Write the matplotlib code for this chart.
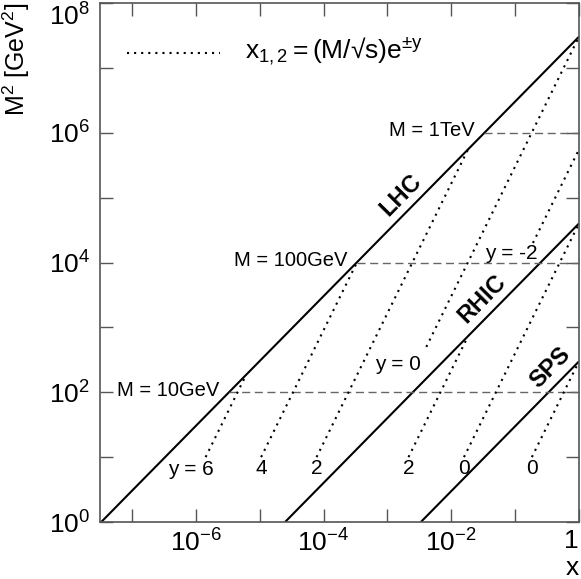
import numpy as np
import matplotlib.pyplot as plt

plt.rcParams['font.family'] = 'Liberation Sans'
plt.rcParams['mathtext.fontset'] = 'custom'
plt.rcParams['mathtext.rm'] = 'Liberation Sans'
plt.rcParams['mathtext.it'] = 'Liberation Sans:italic'
plt.rcParams['mathtext.bf'] = 'Liberation Sans:bold'

# colliders and their sqrt(s) in GeV
machines = ['LHC', 'RHIC', 'SPS']
sqrt_s = [5500.0, 200.0, 17.3]
machine_label_x = [1.6e-3, 3.0e-2, 3.5e-1]

# lines of fixed rapidity: which collider, y, lowest M^2 drawn, label
rap_machine = [0, 0, 0, 0, 0, 1, 1, 2]
rap_y = [6, 4, 2, 0, -2, 2, 0, 0]
rap_m2_start = [10, 10, 10, 500, 2e4, 10, 10, 10]
rap_text = ['y = 6', '4', '2', 'y = 0', 'y = -2', '2', '0', '0']

# fixed masses in GeV
masses = [10, 100, 1000]
mass_text = ['M = 10GeV', 'M = 100GeV', 'M = 1TeV']

x_min, x_max = 10 ** -7.5, 1.0
m2_min, m2_max = 1.0, 1e8

frame = '#555555'
fig = plt.figure(figsize=(5.81, 5.79), dpi=100)
ax = fig.add_axes([100 / 581, 57 / 579, 479 / 581, 519 / 579])
ax.set_xscale('log')
ax.set_yscale('log')
ax.set_xlim(x_min, x_max)
ax.set_ylim(m2_min, m2_max)

s_vals = [v ** 2 for v in sqrt_s]

# kinematic limits M^2 = x s
for s in s_vals:
    xs = np.array([max(m2_min / s, x_min), x_max])
    ax.plot(xs, xs * s, color='black', lw=1.5, solid_capstyle='butt')

# constant mass lines, start on the LHC limit
for m, txt in zip(masses, mass_text):
    x0 = m ** 2 / s_vals[0]
    ax.plot([x0, x_max], [m ** 2, m ** 2], color='#666666', lw=1.0,
            linestyle=(0, (5.8, 3.3)))
    ax.annotate(txt, (x0, m ** 2), xytext=(-7, 1.5), textcoords='offset points',
                ha='right', va='center', fontsize=14.5)

# constant rapidity lines x = (M/sqrt(s)) e^{-y}
label_style = {
    0: dict(ha='right', dx=6, dy=-9),
    3: dict(ha='right', dx=-4, dy=-13),
    4: dict(ha='right', dx=3, dy=-7.5),
}
for i, (k, y, m2s, txt) in enumerate(zip(rap_machine, rap_y, rap_m2_start, rap_text)):
    s = s_vals[k]
    c = s * np.exp(2 * y)
    x_end = min(np.exp(-2 * y), x_max)
    x_start = np.sqrt(m2s / c)
    xs = np.array([x_start, x_end])
    ax.plot(xs, c * xs ** 2, color='black', lw=1.5, linestyle=(0, (1, 2.4)))
    st = label_style.get(i, dict(ha='center', dx=0, dy=-8.5))
    ax.annotate(txt, (x_start, m2s), xytext=(st['dx'], st['dy']),
                textcoords='offset points', ha=st['ha'], va='center', fontsize=15)

# collider names along the limits
p1 = ax.transData.transform((1e-4, 1e-4 * s_vals[0]))
p2 = ax.transData.transform((1e-2, 1e-2 * s_vals[0]))
angle = np.degrees(np.arctan2(p2[1] - p1[1], p2[0] - p1[0]))
for name, s, lx in zip(machines, s_vals, machine_label_x):
    ax.annotate(name, (lx, lx * s), xytext=(0, 16.5), textcoords='offset points',
                ha='center', va='center', rotation=angle, fontsize=17,
                fontweight='bold', rotation_mode='anchor')

# legend entry
ax.plot([0.056, 0.25], [0.904, 0.904], transform=ax.transAxes, color='black',
        lw=1.5, linestyle=(0, (1, 2.4)))
ax.text(0.303, 0.893, r'$\mathrm{x_{1,2} = (M/√s)e^{\pm y}}$', transform=ax.transAxes,
        fontsize=19, ha='left', va='baseline')

xt = [10.0 ** e for e in range(-7, 1)]
xl = ['' if e % 2 else r'$\mathrm{10^{%d}}$' % e for e in range(-7, 1)]
xl[-1] = '1'
ax.set_xticks(xt, xl)
yt = [10.0 ** e for e in range(0, 9)]
yl = ['' if e % 2 else r'$\mathrm{10^{%d}}$' % e for e in range(0, 9)]
ax.set_yticks(yt, yl)
ax.minorticks_off()
ax.tick_params(which='both', direction='in', length=9.5, width=1.0, color=frame,
               top=True, right=True, labelsize=19)
ax.tick_params(axis='x', pad=5)
ax.tick_params(axis='y', pad=7)
ax.get_xticklabels()[-1].set_ha('right')
ax.get_yticklabels()[-1].set_va('top')
for sp in ax.spines.values():
    sp.set_color(frame)
    sp.set_linewidth(1.2)

ax.set_xlabel('x', loc='right', fontsize=19, labelpad=0)
ax.set_ylabel(r'M$^2$ [GeV$^2$]', loc='top', fontsize=18, labelpad=12)

fig.savefig('out.png', dpi=100)
